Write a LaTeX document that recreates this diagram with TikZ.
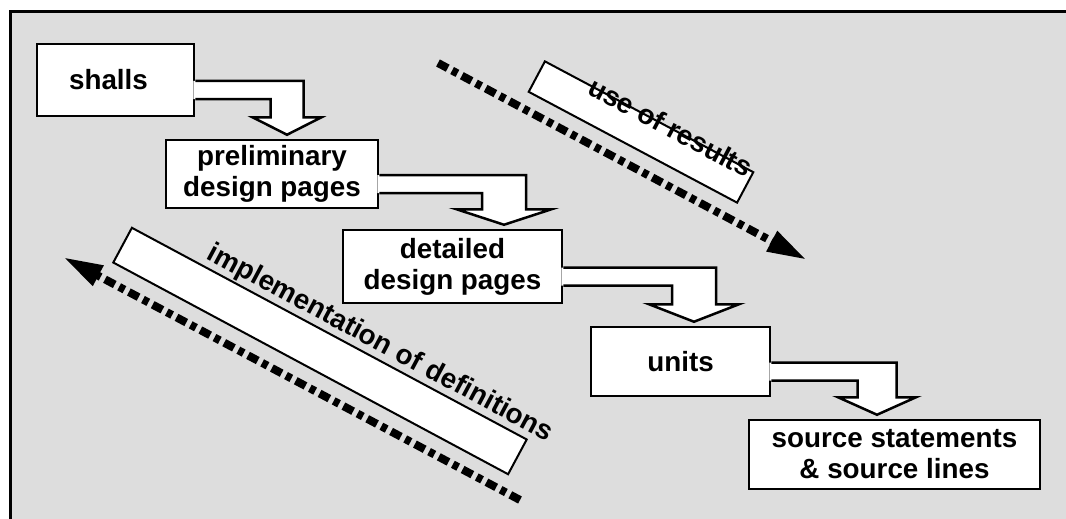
\documentclass[tikz,border=0pt]{standalone}
\usepackage{fontspec}
\setmainfont{Liberation Sans}
\usepackage{xcolor}
\usepackage{tikz}
\usetikzlibrary{positioning,arrows.meta,calc}

\definecolor{panelgray}{HTML}{DDDDDD}

% bent block arrow: from box, to box, shaft centre x, shaft width, head width
\newcommand{\bentarrow}[5]{%
  \fill[white] let \p1=(#1.east), \p2=(#1.south), \p3=(#2.north) in
    ({\x1-2pt},{\y1-1pt}) -- ({#3pt+#4pt/2},{\y1-1pt}) -- ({#3pt+#4pt/2},\y2)
    -- ({#3pt+#5pt/2},\y2) -- (#3pt,{\y3+4pt}) -- ({#3pt-#5pt/2},\y2)
    -- ({#3pt-#4pt/2},\y2) -- ({#3pt-#4pt/2},{\y1-19pt}) -- ({\x1-2pt},{\y1-19pt}) -- cycle;
  \draw[line width=2.5pt] let \p1=(#1.east), \p2=(#1.south), \p3=(#2.north) in
    (\x1,{\y1-1pt}) -- ({#3pt+#4pt/2},{\y1-1pt}) -- ({#3pt+#4pt/2},\y2)
    -- ({#3pt+#5pt/2},\y2) -- (#3pt,{\y3+4pt}) -- ({#3pt-#5pt/2},\y2)
    -- ({#3pt-#4pt/2},\y2) -- ({#3pt-#4pt/2},{\y1-19pt}) -- (\x1,{\y1-19pt});}

\begin{document}
\begin{tikzpicture}[x=1pt, y=-1pt,
  stagebox/.style={draw, fill=white, line width=2.5pt, inner sep=0pt, align=center,
    font=\fontsize{27.8}{31}\selectfont\bfseries},
  slantbox/.style={draw, fill=white, line width=2pt, inner sep=0pt, rotate=-28},
  slanttext/.style={font=\fontsize{27.8}{31}\selectfont\bfseries, inner sep=1pt, sloped},
  flow/.style={line width=8pt, dash pattern=on 11pt off 5pt on 6pt off 5pt,
    -{Triangle[length=40pt,width=21pt]}}]
\useasboundingbox (0,0) rectangle (1066,519);
\clip (0,0) rectangle (1066,519);
\draw[fill=panelgray, line width=3pt] (10,12) rectangle (1090,540);

% dotted flows
\coordinate (resultsStart) at (438,63);
\coordinate (resultsEnd) at (807,260);
\draw[flow] (resultsStart) -- (resultsEnd);
\coordinate (defsStart) at (520,500);
\coordinate (defsEnd) at (63,257);
\draw[flow] (defsStart) -- (defsEnd);

\node[slantbox, minimum width=236pt, minimum height=34.5pt] (useres) at (641,132) {};
\path (useres.north west) -- (useres.north east)
    node[slanttext, pos=0.6] (useresText) {use of results};

\node[slantbox, minimum width=448pt, minimum height=39.4pt, rotate=-0.2] (impl) at (320,351) {};
\path (impl.north west) -- (impl.north east)
    node[slanttext, pos=0.61, above] (implText) {implementation of definitions};

% stages
\node[stagebox, minimum width=157pt, minimum height=72pt] (shalls) at (115.5,80) {shalls\hspace*{14pt}};
\node[stagebox, minimum width=212pt, minimum height=68pt] (prelim) at (272,174) {preliminary\\design pages};
\node[stagebox, minimum width=219pt, minimum height=73pt] (detailed) at (452.5,266.5) {detailed\\design pages};
\node[stagebox, minimum width=179pt, minimum height=69pt] (units) at (680.5,361.5) {units};
\node[stagebox, minimum width=291pt, minimum height=69pt] (source) at (894.5,454.5) {source statements\\\&\ source lines};

\bentarrow{shalls}{prelim}{287}{33}{69}
\bentarrow{prelim}{detailed}{504}{44}{95}
\bentarrow{detailed}{units}{694}{44}{90}
\bentarrow{units}{source}{877}{39}{78}

\end{tikzpicture}
\end{document}
